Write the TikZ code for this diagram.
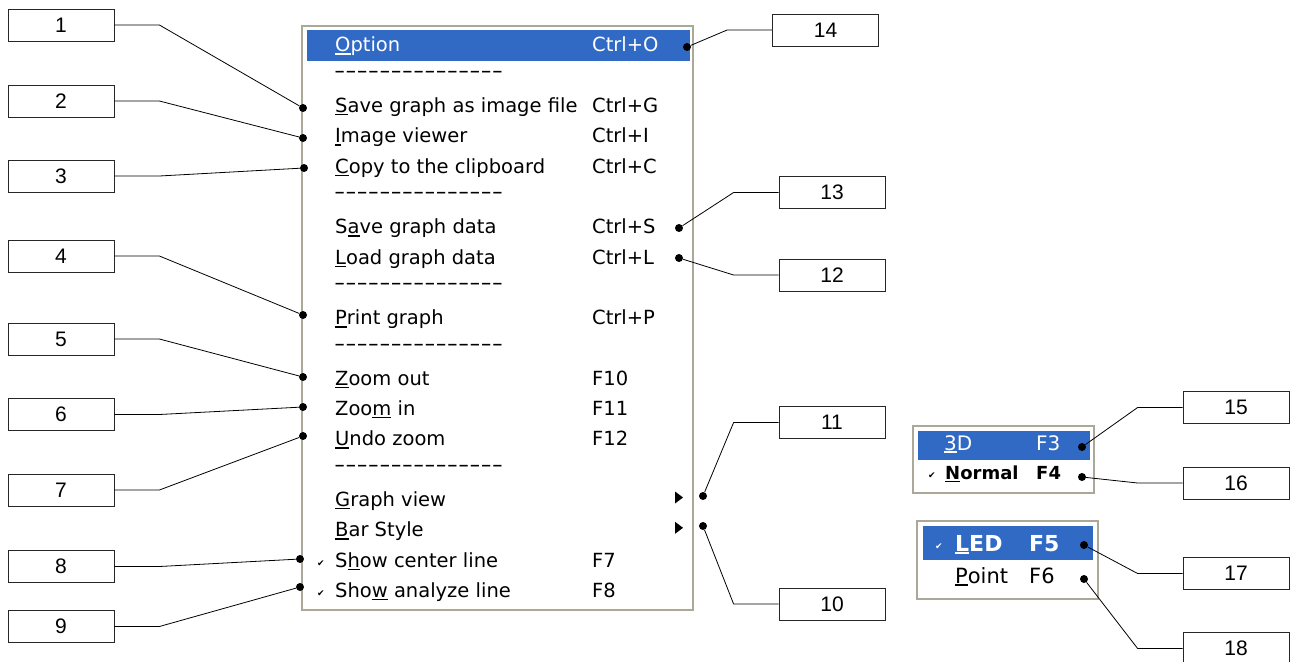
\documentclass[tikz,border=0pt]{standalone}
\usepackage{fontspec}
\setmainfont{Liberation Sans}
\newfontfamily\menufont{DejaVu Sans}
\usepackage{tikz}
\definecolor{selblue}{HTML}{316AC5}
\definecolor{framegray}{HTML}{ACA899}
\newcommand{\mnem}[1]{\setbox0\hbox{#1}\rlap{\rule[-2.8pt]{\wd0}{1.4pt}}\box0\relax}
\newcommand{\dashrow}{\scalebox{1.6}[1]{-{}-{}-{}-{}-{}-{}-{}-{}-{}-{}-{}-{}-{}-{}-}}

\begin{document}
\begin{tikzpicture}
		[x=1pt,y=-1pt,every node/.style={inner sep=0pt},
		numbox/.style={draw=black!85,fill=white,line width=0.8pt,minimum width=106pt,minimum height=32pt,font=\fontsize{21}{21}\selectfont},
		item/.style={anchor=base west,font=\menufont\fontsize{19.5}{20}\selectfont},
		sep/.style={anchor=base west,font=\menufont\fontsize{19.5}{20}\selectfont},
		tick/.style={anchor=base,font=\menufont\fontsize{9}{9}\selectfont},
		dot/.style={circle,fill=black,minimum size=8pt},
		lead/.style={line width=0.8pt}]
		\useasboundingbox (0,0) rectangle (1292,661);
		%main menu
		\draw[framegray,fill=white,line width=1.5pt] (302,26) rectangle (693,610);
		\fill[selblue] (307,30) rectangle (690,61);
		\node[item,white] (m0) at (335,52) {\mnem{O}ption};
		\node[item,white] (k0) at (592,52) {Ctrl+O};
		\foreach \r/\txt/\key in {2/{\mnem{S}ave graph as image file}/Ctrl+G,3/{\mnem{I}mage viewer}/Ctrl+I,
			4/{\mnem{C}opy to the clipboard}/Ctrl+C,6/{S\mnem{a}ve graph data}/Ctrl+S,7/{\mnem{L}oad graph data}/Ctrl+L,
			9/{\mnem{P}rint graph}/Ctrl+P,11/{\mnem{Z}oom out}/F10,12/{Zoo\mnem{m} in}/F11,13/{\mnem{U}ndo zoom}/F12,
			15/{\mnem{G}raph view}/{},16/{\mnem{B}ar Style}/{},17/{S\mnem{h}ow center line}/F7,18/{Sho\mnem{w} analyze line}/F8}
		{
		\node[item] (m\r) at (335,{52+30.3*\r}) {\txt};
		\node[item] (k\r) at (592,{52+30.3*\r}) {\key};
		}
		\foreach \r in {1,5,8,10,14}
		\node[sep] (s\r) at (334,{47.3+30.3*\r}) {\dashrow};
		\foreach \r in {17,18}
		\node[tick] (c\r) at (321,{51+30.3*\r}) {✔};
		\foreach \r in {15,16}
		\fill (675,{37+30.3*\r}) -- ++(8,6) -- ++(-8,6) -- cycle;
		
		%submenu graph view
		\draw[framegray,fill=white,line width=1.5pt] (913,426) rectangle (1094,493);
		\fill[selblue] (918,431) rectangle (1090,460);
		\node[item,white,font=\menufont\fontsize{20}{20}\selectfont] (v1) at (944,450) {\mnem{3}D};
		\node[item,white,font=\menufont\fontsize{20}{20}\selectfont] (f3) at (1036,450) {F3};
		\node[tick] (cv) at (932,478.5) {✔};
		\node[item,font=\menufont\bfseries\fontsize{18}{18}\selectfont] (v2) at (945,479.5) {\mnem{N}ormal};
		\node[item,font=\menufont\bfseries\fontsize{18}{18}\selectfont] (f4) at (1036,479.5) {F4};
		
		%submenu bar style
		\draw[framegray,fill=white,line width=1.5pt] (917,521) rectangle (1098,599);
		\fill[selblue] (923,526) rectangle (1093,560);
		\node[tick,white] (cb) at (939,549) {✔};
		\node[item,white,font=\menufont\bfseries\fontsize{22}{22}\selectfont] (s1) at (955,551) {\mnem{L}ED};
		\node[item,white,font=\menufont\bfseries\fontsize{22}{22}\selectfont] (f5) at (1029,551) {F5};
		\node[item,font=\menufont\fontsize{21}{21}\selectfont] (s2) at (955,583) {\mnem{P}oint};
		\node[item,font=\menufont\fontsize{21}{21}\selectfont] (f6) at (1029,583) {F6};
		
		%dots
		\node[dot] (d1) at (303,108) {};
		\node[dot] (d2) at (303,138) {};
		\node[dot] (d3) at (304,168) {};
		\node[dot] (d4) at (303,315) {};
		\node[dot] (d5) at (303,377) {};
		\node[dot] (d6) at (303,407) {};
		\node[dot] (d7) at (303,436) {};
		\node[dot] (d8) at (300,559) {};
		\node[dot] (d9) at (300,587) {};
		\node[dot] (d10) at (703,526) {};
		\node[dot] (d11) at (703,496) {};
		\node[dot] (d12) at (679,258) {};
		\node[dot] (d13) at (679,228) {};
		\node[dot] (d14) at (687,47) {};
		\node[dot] (d15) at (1082,447) {};
		\node[dot] (d16) at (1082,477) {};
		\node[dot] (d17) at (1084,545) {};
		\node[dot] (d18) at (1084,579) {};
		
		%number boxes
		\node[numbox] (b1) at (61,25) {1};
		\node[numbox] (b2) at (61,101) {2};
		\node[numbox] (b3) at (61,176) {3};
		\node[numbox] (b4) at (61,256) {4};
		\node[numbox] (b5) at (61,339) {5};
		\node[numbox] (b6) at (61,414.5) {6};
		\node[numbox] (b7) at (61,490) {7};
		\node[numbox] (b8) at (61,566.5) {8};
		\node[numbox] (b9) at (61,626.5) {9};
		\node[numbox] (b10) at (832,604) {10};
		\node[numbox] (b11) at (832,422.5) {11};
		\node[numbox] (b12) at (832,275) {12};
		\node[numbox] (b13) at (832,192.5) {13};
		\node[numbox] (b14) at (825.5,30) {14};
		\node[numbox] (b15) at (1236,407.5) {15};
		\node[numbox] (b16) at (1236,483) {16};
		\node[numbox] (b17) at (1236,573.5) {17};
		\node[numbox] (b18) at (1236,648.5) {18};
		
		\foreach \i in {1,...,9}
		\draw[lead] (b\i.east) -- ++(45,0) -- (d\i);
		\foreach \i in {10,...,18}
		\draw[lead] (b\i.west) -- ++(-45,0) -- (d\i);
	\end{tikzpicture}
\end{document}
